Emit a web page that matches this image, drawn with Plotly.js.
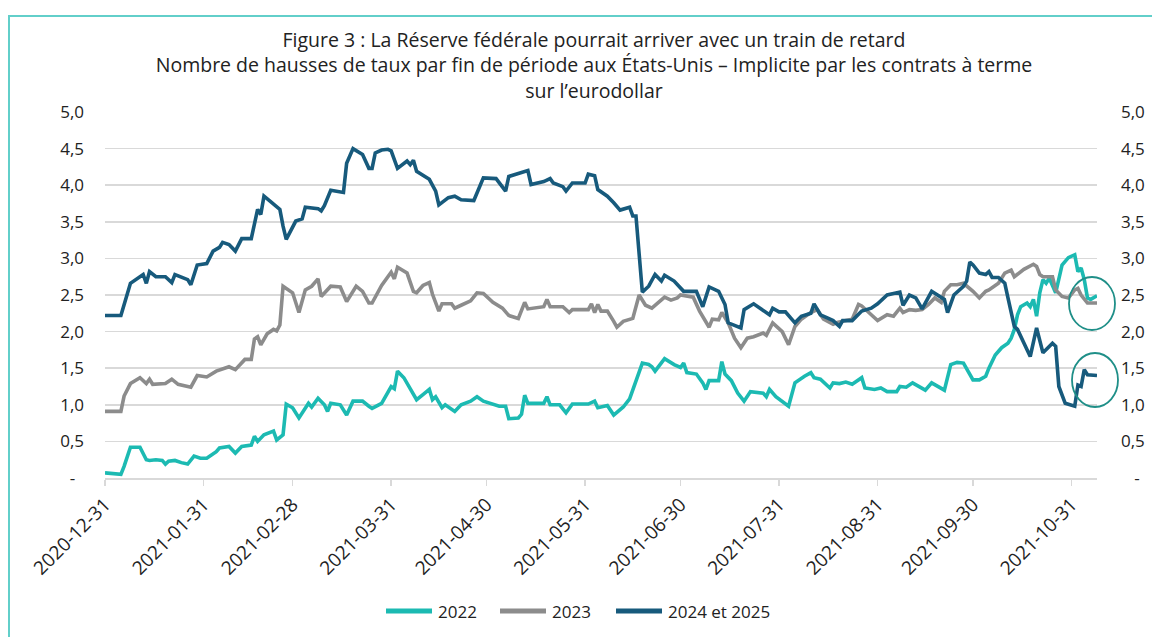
<!DOCTYPE html>
<html>
<head>
<meta charset="utf-8">
<script src="https://cdn.plot.ly/plotly-3.0.1.min.js"></script>
<style>
  html, body { margin: 0; padding: 0; background: #ffffff; overflow: hidden; }
  #wrap { position: relative; width: 1152px; height: 637px; overflow: hidden; }
  #chart { width: 1152px; height: 637px; }
  #frame { position: absolute; left: 8px; top: 15px; width: 1200px; height: 700px;
           border-left: 2px solid #62cfca; border-top: 2px solid #62cfca;
           box-sizing: border-box; pointer-events: none; }
</style>
</head>
<body>
<div id="wrap">
  <div id="chart"></div>
  <div id="frame"></div>
</div>
<script>
// ---------- Data ----------
const seriesNames = ["2022", "2023", "2024 et 2025"];

const dates2022 = ["2020-12-31","2021-01-03","2021-01-05","2021-01-06","2021-01-08","2021-01-11","2021-01-13","2021-01-14","2021-01-16","2021-01-18","2021-01-19","2021-01-20","2021-01-22","2021-01-24","2021-01-26","2021-01-28","2021-01-30","2021-02-01","2021-02-04","2021-02-05","2021-02-08","2021-02-10","2021-02-12","2021-02-15","2021-02-16","2021-02-17","2021-02-19","2021-02-22","2021-02-23","2021-02-25","2021-02-26","2021-02-28","2021-03-02","2021-03-05","2021-03-06","2021-03-08","2021-03-10","2021-03-11","2021-03-12","2021-03-15","2021-03-17","2021-03-19","2021-03-22","2021-03-24","2021-03-25","2021-03-28","2021-03-30","2021-03-31","2021-04-01","2021-04-02","2021-04-04","2021-04-06","2021-04-08","2021-04-10","2021-04-12","2021-04-13","2021-04-14","2021-04-16","2021-04-17","2021-04-20","2021-04-22","2021-04-25","2021-04-27","2021-04-29","2021-05-01","2021-05-04","2021-05-06","2021-05-07","2021-05-10","2021-05-11","2021-05-12","2021-05-13","2021-05-18","2021-05-19","2021-05-20","2021-05-23","2021-05-25","2021-05-27","2021-06-01","2021-06-03","2021-06-04","2021-06-07","2021-06-09","2021-06-12","2021-06-14","2021-06-16","2021-06-18","2021-06-20","2021-06-21","2021-06-22","2021-06-25","2021-06-28","2021-06-30","2021-07-01","2021-07-02","2021-07-05","2021-07-07","2021-07-08","2021-07-09","2021-07-12","2021-07-13","2021-07-14","2021-07-16","2021-07-18","2021-07-20","2021-07-22","2021-07-24","2021-07-26","2021-07-27","2021-07-28","2021-07-30","2021-08-03","2021-08-05","2021-08-07","2021-08-08","2021-08-10","2021-08-11","2021-08-13","2021-08-16","2021-08-17","2021-08-19","2021-08-21","2021-08-23","2021-08-26","2021-08-27","2021-08-30","2021-09-01","2021-09-03","2021-09-06","2021-09-07","2021-09-09","2021-09-11","2021-09-13","2021-09-15","2021-09-17","2021-09-19","2021-09-21","2021-09-23","2021-09-25","2021-09-27","2021-09-28","2021-09-30","2021-10-02","2021-10-04","2021-10-05","2021-10-07","2021-10-09","2021-10-11","2021-10-12","2021-10-13","2021-10-14","2021-10-15","2021-10-17","2021-10-18","2021-10-19","2021-10-20","2021-10-21","2021-10-22","2021-10-23","2021-10-24","2021-10-26","2021-10-27","2021-10-28","2021-10-30","2021-11-01","2021-11-02","2021-11-03","2021-11-04","2021-11-05","2021-11-06","2021-11-08"];
const values2022 = [0.07,0.06,0.05,0.16,0.42,0.42,0.25,0.24,0.25,0.24,0.19,0.23,0.24,0.21,0.19,0.30,0.27,0.27,0.36,0.41,0.43,0.34,0.43,0.45,0.57,0.50,0.59,0.64,0.52,0.59,1.01,0.96,0.82,1.02,0.97,1.09,1.00,0.91,1.02,1.00,0.86,1.05,1.05,0.98,0.95,1.02,1.16,1.25,1.22,1.46,1.37,1.23,1.07,1.14,1.21,1.07,1.11,0.96,1.00,0.91,1.00,1.05,1.11,1.05,1.02,0.98,0.98,0.81,0.82,0.87,1.13,1.02,1.02,1.11,1.00,1.00,0.89,1.01,1.01,1.05,0.96,0.99,0.86,0.97,1.08,1.32,1.57,1.55,1.52,1.46,1.63,1.55,1.51,1.57,1.44,1.42,1.30,1.21,1.33,1.33,1.59,1.42,1.33,1.16,1.05,1.18,1.17,1.16,1.11,1.21,1.11,0.98,1.30,1.37,1.39,1.44,1.37,1.35,1.23,1.30,1.29,1.31,1.28,1.37,1.23,1.21,1.23,1.18,1.18,1.25,1.24,1.30,1.25,1.20,1.30,1.25,1.20,1.55,1.58,1.57,1.50,1.34,1.34,1.39,1.50,1.68,1.78,1.84,1.91,2.03,2.23,2.34,2.39,2.34,2.44,2.21,2.53,2.71,2.66,2.73,2.53,2.73,2.91,3.01,3.05,2.82,2.87,2.71,2.46,2.44,2.49];

const dates2023 = ["2020-12-31","2021-01-05","2021-01-06","2021-01-08","2021-01-11","2021-01-13","2021-01-14","2021-01-15","2021-01-19","2021-01-21","2021-01-23","2021-01-26","2021-01-27","2021-01-29","2021-02-01","2021-02-04","2021-02-08","2021-02-10","2021-02-13","2021-02-15","2021-02-16","2021-02-17","2021-02-18","2021-02-20","2021-02-22","2021-02-23","2021-02-24","2021-02-25","2021-02-28","2021-03-02","2021-03-04","2021-03-06","2021-03-08","2021-03-09","2021-03-12","2021-03-15","2021-03-17","2021-03-20","2021-03-22","2021-03-24","2021-03-25","2021-03-28","2021-03-31","2021-04-01","2021-04-02","2021-04-05","2021-04-07","2021-04-08","2021-04-10","2021-04-12","2021-04-13","2021-04-15","2021-04-16","2021-04-19","2021-04-20","2021-04-22","2021-04-24","2021-04-25","2021-04-27","2021-04-29","2021-05-02","2021-05-05","2021-05-07","2021-05-10","2021-05-12","2021-05-13","2021-05-18","2021-05-19","2021-05-20","2021-05-24","2021-05-26","2021-05-27","2021-06-01","2021-06-02","2021-06-03","2021-06-04","2021-06-05","2021-06-07","2021-06-09","2021-06-10","2021-06-12","2021-06-15","2021-06-17","2021-06-19","2021-06-21","2021-06-25","2021-06-27","2021-06-29","2021-06-30","2021-07-04","2021-07-06","2021-07-09","2021-07-10","2021-07-12","2021-07-13","2021-07-15","2021-07-17","2021-07-19","2021-07-21","2021-07-23","2021-07-26","2021-07-27","2021-07-29","2021-08-01","2021-08-03","2021-08-05","2021-08-07","2021-08-10","2021-08-12","2021-08-14","2021-08-17","2021-08-18","2021-08-21","2021-08-23","2021-08-25","2021-08-26","2021-08-29","2021-08-31","2021-09-03","2021-09-05","2021-09-07","2021-09-08","2021-09-10","2021-09-12","2021-09-14","2021-09-16","2021-09-18","2021-09-20","2021-09-21","2021-09-23","2021-09-25","2021-09-27","2021-09-30","2021-10-02","2021-10-04","2021-10-05","2021-10-08","2021-10-10","2021-10-12","2021-10-13","2021-10-16","2021-10-19","2021-10-20","2021-10-21","2021-10-22","2021-10-25","2021-10-26","2021-10-28","2021-10-30","2021-11-01","2021-11-02","2021-11-03","2021-11-05","2021-11-08"];
const values2023 = [0.91,0.91,1.12,1.29,1.37,1.29,1.35,1.28,1.29,1.35,1.28,1.25,1.24,1.40,1.38,1.46,1.52,1.48,1.62,1.62,1.90,1.93,1.82,1.97,2.03,2.01,2.09,2.62,2.53,2.26,2.57,2.62,2.72,2.48,2.62,2.61,2.41,2.62,2.55,2.39,2.39,2.63,2.81,2.72,2.88,2.80,2.55,2.53,2.63,2.67,2.51,2.28,2.38,2.38,2.32,2.36,2.40,2.42,2.53,2.52,2.40,2.32,2.22,2.18,2.40,2.31,2.34,2.44,2.34,2.34,2.26,2.30,2.30,2.38,2.26,2.37,2.28,2.28,2.14,2.06,2.14,2.18,2.50,2.36,2.32,2.47,2.43,2.46,2.50,2.47,2.28,2.06,2.17,2.16,2.26,2.12,1.91,1.78,1.91,1.93,1.98,1.95,2.12,2.00,1.82,2.07,2.17,2.26,2.30,2.17,2.10,2.12,2.15,2.17,2.37,2.35,2.23,2.15,2.23,2.21,2.32,2.26,2.30,2.29,2.30,2.37,2.46,2.40,2.55,2.64,2.64,2.66,2.55,2.46,2.55,2.57,2.66,2.80,2.84,2.75,2.85,2.92,2.89,2.78,2.75,2.75,2.57,2.48,2.46,2.57,2.59,2.50,2.39,2.39];

const dates2024_25 = ["2020-12-31","2021-01-05","2021-01-08","2021-01-12","2021-01-13","2021-01-14","2021-01-16","2021-01-19","2021-01-21","2021-01-22","2021-01-26","2021-01-27","2021-01-29","2021-02-01","2021-02-03","2021-02-05","2021-02-06","2021-02-08","2021-02-10","2021-02-12","2021-02-15","2021-02-17","2021-02-18","2021-02-19","2021-02-21","2021-02-24","2021-02-25","2021-02-26","2021-03-01","2021-03-03","2021-03-04","2021-03-08","2021-03-09","2021-03-10","2021-03-12","2021-03-16","2021-03-17","2021-03-19","2021-03-22","2021-03-24","2021-03-25","2021-03-26","2021-03-28","2021-03-30","2021-03-31","2021-04-02","2021-04-05","2021-04-06","2021-04-07","2021-04-08","2021-04-12","2021-04-14","2021-04-15","2021-04-18","2021-04-20","2021-04-22","2021-04-26","2021-04-29","2021-05-03","2021-05-06","2021-05-07","2021-05-12","2021-05-13","2021-05-14","2021-05-18","2021-05-20","2021-05-21","2021-05-24","2021-05-25","2021-05-27","2021-05-31","2021-06-01","2021-06-03","2021-06-04","2021-06-07","2021-06-09","2021-06-11","2021-06-14","2021-06-15","2021-06-16","2021-06-18","2021-06-20","2021-06-22","2021-06-24","2021-06-25","2021-06-28","2021-07-01","2021-07-05","2021-07-07","2021-07-09","2021-07-12","2021-07-14","2021-07-15","2021-07-19","2021-07-20","2021-07-23","2021-07-28","2021-07-29","2021-07-31","2021-08-02","2021-08-05","2021-08-07","2021-08-10","2021-08-11","2021-08-13","2021-08-15","2021-08-17","2021-08-19","2021-08-20","2021-08-23","2021-08-26","2021-08-29","2021-08-31","2021-09-03","2021-09-07","2021-09-08","2021-09-10","2021-09-12","2021-09-14","2021-09-17","2021-09-21","2021-09-22","2021-09-24","2021-09-27","2021-09-28","2021-09-29","2021-09-30","2021-10-02","2021-10-04","2021-10-05","2021-10-06","2021-10-08","2021-10-10","2021-10-11","2021-10-13","2021-10-14","2021-10-16","2021-10-18","2021-10-20","2021-10-22","2021-10-25","2021-10-26","2021-10-27","2021-10-29","2021-11-01","2021-11-02","2021-11-03","2021-11-04","2021-11-05","2021-11-08"];
const values2024_25 = [2.22,2.22,2.66,2.78,2.66,2.82,2.75,2.75,2.67,2.78,2.71,2.64,2.91,2.93,3.10,3.15,3.22,3.19,3.10,3.27,3.27,3.67,3.60,3.85,3.78,3.67,3.44,3.26,3.51,3.54,3.70,3.68,3.65,3.72,3.93,3.90,4.30,4.50,4.42,4.23,4.23,4.44,4.48,4.49,4.47,4.23,4.33,4.28,4.34,4.19,4.08,3.92,3.73,3.83,3.85,3.80,3.79,4.10,4.09,3.92,4.12,4.19,4.20,4.01,4.05,4.09,4.03,3.98,3.92,4.03,4.03,4.15,4.13,3.94,3.85,3.76,3.66,3.70,3.58,3.58,2.54,2.62,2.78,2.69,2.77,2.69,2.55,2.55,2.34,2.61,2.55,2.37,2.12,2.05,2.30,2.38,2.23,2.32,2.27,2.27,2.12,2.21,2.25,2.38,2.23,2.19,2.15,2.07,2.15,2.15,2.28,2.32,2.38,2.50,2.54,2.36,2.50,2.46,2.31,2.55,2.44,2.26,2.50,2.62,2.69,2.95,2.91,2.80,2.78,2.82,2.74,2.74,2.66,2.46,2.07,2.03,1.85,1.66,2.05,1.71,1.84,1.80,1.25,1.02,0.98,1.27,1.25,1.48,1.41,1.40];

const xTickVals = ["2020-12-31","2021-01-31","2021-02-28","2021-03-31","2021-04-30","2021-05-31","2021-06-30","2021-07-31","2021-08-31","2021-09-30","2021-10-31"];
const xTickText = ["2020-12-31","2021-01-31","2021-02-28","2021-03-31","2021-04-30","2021-05-31","2021-06-30","2021-07-31","2021-08-31","2021-09-30","2021-10-31"];
const yTickVals = [0, 0.5, 1, 1.5, 2, 2.5, 3, 3.5, 4, 4.5, 5];
const yTickTextLeft = ["-\u00a0\u00a0", "0,5", "1,0", "1,5", "2,0", "2,5", "3,0", "3,5", "4,0", "4,5", "5,0"];
const yTickTextRight = ["\u00a0\u00a0\u00a0-", "0,5", "1,0", "1,5", "2,0", "2,5", "3,0", "3,5", "4,0", "4,5", "5,0"];

const colors = ["#1cbab2", "#8c8c8c", "#175a7c"];
const FONT = "'Open Sans', 'Noto Sans', sans-serif";
const TEXT = "#222222";

// ---------- Traces ----------
const traces = [
  { x: dates2022, y: values2022, name: seriesNames[0], type: "scatter", mode: "lines",
    line: { color: colors[0], width: 3.6 } },
  { x: dates2023, y: values2023, name: seriesNames[1], type: "scatter", mode: "lines",
    line: { color: colors[1], width: 3.6 } },
  { x: dates2024_25, y: values2024_25, name: seriesNames[2], type: "scatter", mode: "lines",
    line: { color: colors[2], width: 3.6 } },
  // invisible companion so that the right-hand axis is drawn
  { x: dates2024_25, y: values2024_25, yaxis: "y2", type: "scatter", mode: "lines",
    line: { color: "rgba(0,0,0,0)", width: 0 }, showlegend: false, hoverinfo: "skip" }
];

// ---------- Layout helpers (pixel -> paper, plot area 105..1097 x 112..478) ----------
const px = v => (v - 105) / 992;
const py = v => (478 - v) / 366;

const circleColor = "#1f8f88";

// legend drawn as line samples + labels, positioned like the reference
const legendItems = [
  { name: seriesNames[0], color: colors[0], x0: 386, x1: 432, tx: 436 },
  { name: seriesNames[1], color: colors[1], x0: 500, x1: 546, tx: 550 },
  { name: seriesNames[2], color: colors[2], x0: 616, x1: 662, tx: 666 }
];
const legendY = 611;

const shapes = [
  // highlight ellipses around the last values
  { type: "circle", xref: "paper", yref: "paper",
    x0: px(1069), x1: px(1115), y0: py(330), y1: py(277),
    line: { color: circleColor, width: 1.8 }, layer: "above" },
  { type: "circle", xref: "paper", yref: "paper",
    x0: px(1072), x1: px(1118), y0: py(407), y1: py(353),
    line: { color: circleColor, width: 1.8 }, layer: "above" }
];
const annotations = [];
legendItems.forEach(it => {
  shapes.push({ type: "line", xref: "paper", yref: "paper",
    x0: px(it.x0), x1: px(it.x1), y0: py(legendY), y1: py(legendY),
    line: { color: it.color, width: 5 }, layer: "above" });
  annotations.push({ xref: "paper", yref: "paper", x: px(it.tx), y: py(legendY),
    xanchor: "left", yanchor: "middle", showarrow: false, text: it.name,
    font: { family: FONT, size: 17, color: TEXT } });
});

const layout = {
  width: 1152,
  height: 637,
  paper_bgcolor: "#ffffff",
  plot_bgcolor: "#ffffff",
  margin: { l: 105, r: 55, t: 112, b: 159 },
  font: { family: FONT, size: 16, color: TEXT },
  title: {
    text: "Figure 3 : La Réserve fédérale pourrait arriver avec un train de retard<br>" +
          "Nombre de hausses de taux par fin de période aux États-Unis – Implicite par les contrats à terme<br>" +
          "sur l’eurodollar",
    x: 594 / 1152, xref: "container", xanchor: "center",
    y: 1 - 47 / 637, yref: "container", yanchor: "top",
    font: { family: FONT, size: 19.5, color: TEXT }
  },
  showlegend: false,
  xaxis: {
    type: "date",
    range: ["2020-12-31", "2021-11-08"],
    tickmode: "array",
    tickvals: xTickVals,
    ticktext: xTickText,
    tickangle: -45,
    ticks: "outside",
    ticklen: 6,
    tickwidth: 1.5,
    tickcolor: "#d9d9d9",
    showline: true,
    linecolor: "#d9d9d9",
    linewidth: 2,
    showgrid: false,
    zeroline: false,
    tickfont: { family: FONT, size: 19, color: TEXT }
  },
  yaxis: {
    range: [0, 5],
    tickmode: "array",
    tickvals: yTickVals,
    ticktext: yTickTextLeft,
    showgrid: true,
    gridcolor: "#d9d9d9",
    gridwidth: 1.5,
    zeroline: false,
    showline: false,
    ticks: "",
    ticklabelstandoff: 20,
    tickfont: { family: FONT, size: 17, color: TEXT }
  },
  yaxis2: {
    overlaying: "y",
    side: "right",
    range: [0, 5],
    tickmode: "array",
    tickvals: yTickVals,
    ticktext: yTickTextRight,
    showgrid: false,
    zeroline: false,
    showline: false,
    ticks: "",
    ticklabelstandoff: 23,
    tickfont: { family: FONT, size: 17, color: TEXT }
  },
  shapes: shapes,
  annotations: annotations
};

Plotly.newPlot("chart", traces, layout, { displayModeBar: false, staticPlot: true });
</script>
</body>
</html>
